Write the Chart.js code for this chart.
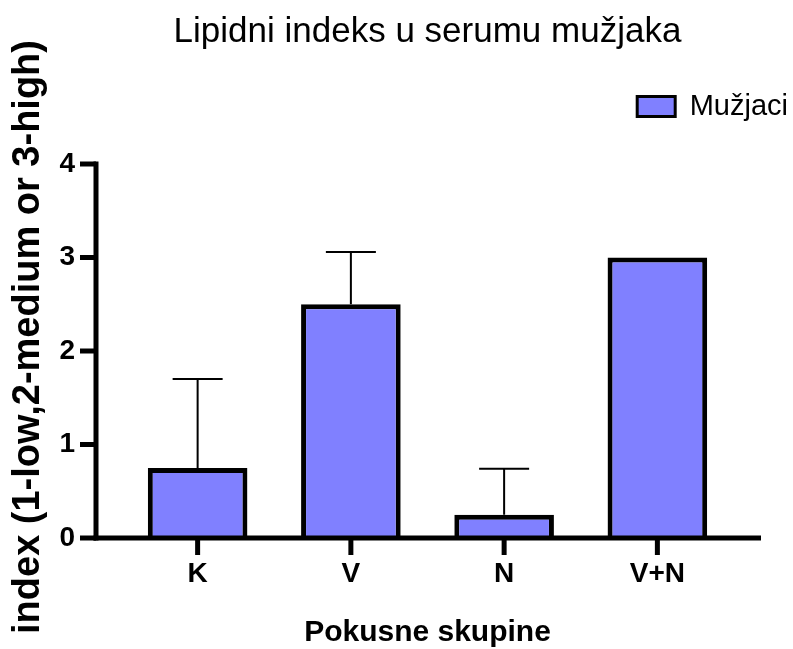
<!DOCTYPE html>
<html>
<head>
<meta charset="utf-8">
<title>Lipidni indeks u serumu mužjaka</title>
<script src="https://cdn.jsdelivr.net/npm/chart.js@4"></script>
<style>
    html, body { margin: 0; padding: 0; background: #fff; }
    #wrap { width: 793px; height: 649px; position: relative; }
</style>
</head>
<body>
<div id="wrap"><canvas id="lipidChart"></canvas></div>
<script>
// data
const categories = ['K', 'V', 'N', 'V+N'];
const means = [0.75, 2.5, 0.25, 3.0];
const errorsUp = [0.95, 0.56, 0.49, 0];   // one-sided (upper) error bars
const yTicks = [0, 1, 2, 3, 4];
const yTitle = 'index (1-low,2-medium or 3-high)';

const FONT = "Arial, 'Liberation Sans', sans-serif";
const BAR_FILL = '#8080ff';

Chart.defaults.color = '#000';
Chart.defaults.font.family = FONT;

// axes drawn Prism style: detached y axis, long x axis, thick ticks + error bars
const prismAxes = {
    id: 'prismAxes',
    afterDatasetsDraw(chart) {
        const { ctx, chartArea, scales: { x, y } } = chart;
        const axisX = chartArea.left - 25;
        const axisEnd = chartArea.right + 27;
        const y0 = y.getPixelForValue(0);

        ctx.save();
        ctx.strokeStyle = '#000';

        // error bars (upper only)
        ctx.lineWidth = 2;
        means.forEach((m, i) => {
            if (!errorsUp[i]) return;
            const cx = x.getPixelForValue(i);
            const top = y.getPixelForValue(m + errorsUp[i]);
            const base = y.getPixelForValue(m);
            ctx.beginPath();
            ctx.moveTo(cx, base);
            ctx.lineTo(cx, top);
            ctx.moveTo(cx - 25, top);
            ctx.lineTo(cx + 25, top);
            ctx.stroke();
        });

        // y axis
        ctx.lineWidth = 5;
        ctx.lineCap = 'butt';
        ctx.beginPath();
        ctx.moveTo(axisX, y.getPixelForValue(yTicks[yTicks.length - 1]) - 2.5);
        ctx.lineTo(axisX, y0 + 2.5);
        ctx.stroke();
        yTicks.forEach(v => {
            const py = y.getPixelForValue(v);
            ctx.beginPath();
            ctx.moveTo(axisX - 16, py);
            ctx.lineTo(axisX, py);
            ctx.stroke();
        });

        // x axis
        ctx.beginPath();
        ctx.moveTo(axisX - 2.5, y0);
        ctx.lineTo(axisEnd, y0);
        ctx.stroke();
        categories.forEach((c, i) => {
            const px = x.getPixelForValue(i);
            ctx.beginPath();
            ctx.moveTo(px, y0);
            ctx.lineTo(px, y0 + 17);
            ctx.stroke();
        });

        // y axis title (sits a little above the plot centre in the figure)
        ctx.translate(29, (chartArea.top + chartArea.bottom) / 2 - 14);
        ctx.rotate(-Math.PI / 2);
        ctx.font = 'bold 38px ' + FONT;
        ctx.fillStyle = '#000';
        ctx.textAlign = 'center';
        ctx.textBaseline = 'middle';
        ctx.fillText(yTitle, 0, 0);
        ctx.restore();
    }
};

new Chart(document.getElementById('lipidChart'), {
    type: 'bar',
    data: {
        labels: categories,
        datasets: [{
            label: 'Mužjaci',
            data: means,
            backgroundColor: BAR_FILL,
            borderColor: '#000',
            borderWidth: 5,
            borderSkipped: 'start',
            barPercentage: 0.65,
            categoryPercentage: 1
        }]
    },
    options: {
        responsive: true,
        maintainAspectRatio: false,
        animation: false,
        layout: { padding: 0 },
        plugins: {
            title: {
                display: true,
                fullSize: false,
                text: 'Lipidni indeks u serumu mužjaka',
                font: { size: 35, weight: 'normal' },
                padding: { top: 11, bottom: 34 }
            },
            legend: {
                display: true,
                position: 'top',
                align: 'end',
                labels: {
                    font: { size: 29 },
                    boxWidth: 38,
                    boxHeight: 20,
                    padding: 5,
                    generateLabels(chart) {
                        return Chart.defaults.plugins.legend.labels.generateLabels(chart)
                            .map(l => ({ ...l, lineWidth: 3 }));
                    }
                }
            },
            tooltip: { enabled: false }
        },
        scales: {
            x: {
                grid: { display: false, drawTicks: false },
                border: { display: false },
                ticks: { font: { size: 28, weight: 'bold' }, padding: 19 },
                title: {
                    display: true,
                    text: 'Pokusne skupine',
                    font: { size: 30, weight: 'bold', lineHeight: 1 },
                    padding: { top: 0, bottom: 1 }
                },
                afterFit(scale) { scale.height = 111; }
            },
            y: {
                min: 0,
                max: 4,
                grid: { display: false, drawTicks: false },
                border: { display: false },
                ticks: { font: { size: 28, weight: 'bold' }, padding: 46 },
                afterBuildTicks(scale) { scale.ticks = yTicks.map(v => ({ value: v })); },
                afterFit(scale) { scale.width = 121; }
            },
            // spacer axes so the plot sits where it does in the figure
            xTop: {
                type: 'category',
                position: 'top',
                grid: { display: false, drawTicks: false },
                border: { display: false },
                ticks: { display: false },
                afterFit(scale) { scale.height = 33; }
            },
            yRight: {
                type: 'linear',
                position: 'right',
                grid: { display: false, drawTicks: false },
                border: { display: false },
                ticks: { display: false },
                afterFit(scale) { scale.width = 59; }
            }
        }
    },
    plugins: [prismAxes]
});
</script>
</body>
</html>
